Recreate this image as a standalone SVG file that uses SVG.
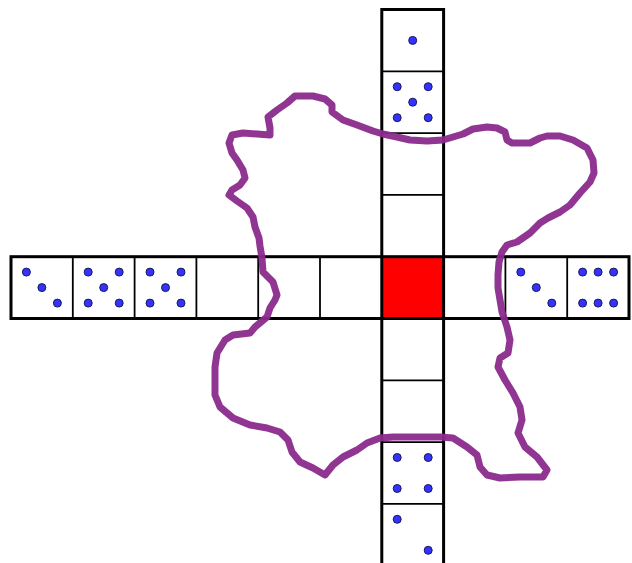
<svg xmlns="http://www.w3.org/2000/svg" width="632" height="563" viewBox="0 0 632 563">
  <style>
    .div { stroke: #000; stroke-width: 1.8; fill: none; }
    .outer { stroke: #000; stroke-width: 3; fill: none; }
    .pip { fill: #3333ff; stroke: #1a1a55; stroke-width: 1; }
    .blob { fill: none; stroke: #8b2a8d; stroke-opacity: 0.95; stroke-width: 7; stroke-linejoin: round; stroke-linecap: round; }
  </style>
  <defs>
    <circle id="p" r="4" class="pip"/>
  </defs>
  <rect width="632" height="563" fill="#fff"/>

  <g id="row">
    <rect x="381.8" y="256.7" width="61.8" height="61.8" fill="#ff0000"/>
    <g class="div">
      <line x1="72.8" y1="256.7" x2="72.8" y2="318.5"/>
      <line x1="134.6" y1="256.7" x2="134.6" y2="318.5"/>
      <line x1="196.4" y1="256.7" x2="196.4" y2="318.5"/>
      <line x1="258.2" y1="256.7" x2="258.2" y2="318.5"/>
      <line x1="320" y1="256.7" x2="320" y2="318.5"/>
      <line x1="505.4" y1="256.7" x2="505.4" y2="318.5"/>
      <line x1="567.2" y1="256.7" x2="567.2" y2="318.5"/>
    </g>
    <rect x="11" y="256.7" width="618" height="61.8" class="outer"/>
  </g>

  <g id="column">
    <g class="div">
      <line x1="381.8" y1="71.3" x2="443.6" y2="71.3"/>
      <line x1="381.8" y1="133.1" x2="443.6" y2="133.1"/>
      <line x1="381.8" y1="194.9" x2="443.6" y2="194.9"/>
      <line x1="381.8" y1="380.3" x2="443.6" y2="380.3"/>
      <line x1="381.8" y1="442.1" x2="443.6" y2="442.1"/>
      <line x1="381.8" y1="503.9" x2="443.6" y2="503.9"/>
    </g>
    <rect x="381.8" y="9.5" width="61.8" height="556.2" class="outer"/>
  </g>

  <g id="pips-row">
    <use href="#p" x="26.4" y="272.1"/><use href="#p" x="41.9" y="287.6"/><use href="#p" x="57.4" y="303.1"/>
    <use href="#p" x="88.2" y="272.1"/><use href="#p" x="119.2" y="272.1"/><use href="#p" x="103.7" y="287.6"/><use href="#p" x="88.2" y="303.1"/><use href="#p" x="119.2" y="303.1"/>
    <use href="#p" x="150" y="272.1"/><use href="#p" x="181" y="272.1"/><use href="#p" x="165.5" y="287.6"/><use href="#p" x="150" y="303.1"/><use href="#p" x="181" y="303.1"/>
    <use href="#p" x="520.8" y="272.1"/><use href="#p" x="536.3" y="287.6"/><use href="#p" x="551.8" y="303.1"/>
    <use href="#p" x="582.6" y="272.1"/><use href="#p" x="598.1" y="272.1"/><use href="#p" x="613.6" y="272.1"/>
    <use href="#p" x="582.6" y="303.1"/><use href="#p" x="598.1" y="303.1"/><use href="#p" x="613.6" y="303.1"/>
  </g>

  <g id="pips-column">
    <use href="#p" x="412.7" y="40.4"/>
    <use href="#p" x="397.2" y="86.7"/><use href="#p" x="428.2" y="86.7"/><use href="#p" x="412.7" y="102.2"/><use href="#p" x="397.2" y="117.7"/><use href="#p" x="428.2" y="117.7"/>
    <use href="#p" x="397.2" y="457.5"/><use href="#p" x="428.2" y="457.5"/><use href="#p" x="397.2" y="488.5"/><use href="#p" x="428.2" y="488.5"/>
    <use href="#p" x="397.2" y="519.3"/><use href="#p" x="428.2" y="550.3"/>
  </g>

  <g id="region">
    <path class="blob" d="M262,258 L260,246 259,238 255,227 253,217 247,208 237,201 229,195 232,190 240,185 245,178 243,170 237,160 232,153 229,143 232,135 243,133 257,134 270,135 270,128 268,117 277,110 287,103 295,96 313,96 325,99 332,105 332,112 343,120 357,125 373,131 383,134 397,137 410,140 427,141 443,140 453,137 463,134 473,129 487,127 497,128 505,132 507,140 512,143 530,143 540,138 547,136 560,136 573,140 587,148 593,160 594,173 590,182 580,193 570,205 560,212 548,218 540,223 530,233 517,242 507,245 502,252 499,262 498,275 498,288 500,300 502,312 507,327 510,340 508,353 500,358 498,367 505,380 513,393 520,407 522,420 518,433 525,447 537,457 547,470 543,477 520,477 500,478 487,475 480,467 477,455 467,447 453,438 440,437 417,437 393,437 380,438 367,443 357,450 343,457 333,465 325,475 313,468 300,462 292,452 288,440 280,432 267,428 250,425 233,418 220,407 215,395 215,380 215,367 217,353 225,340 233,335 250,333 255,327 267,317 270,308 275,300 277,295 273,282 263,272 Z"/>
  </g>
</svg>
